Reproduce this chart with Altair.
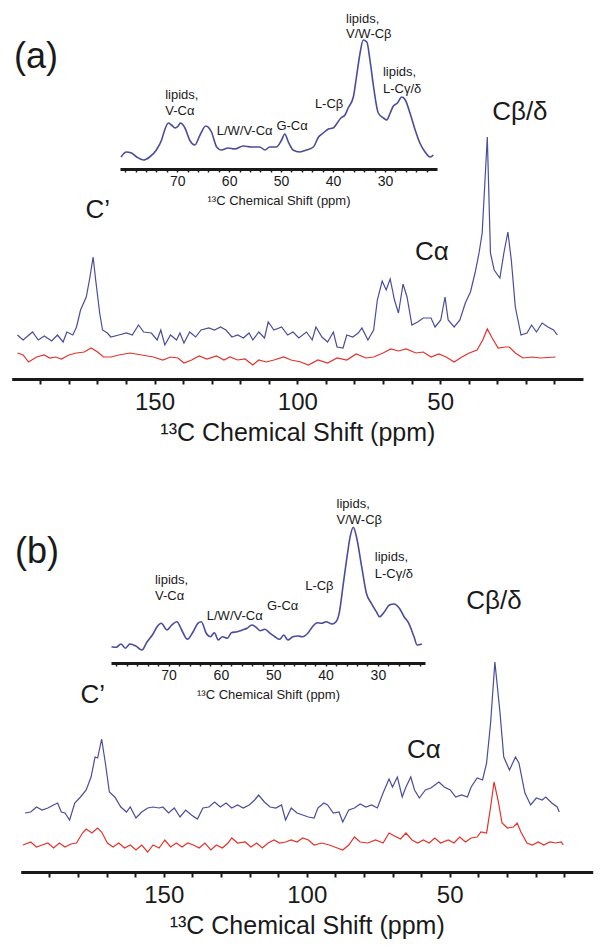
import altair as alt
import pandas as pd

FONT = "Liberation Sans"
BLUE = "#4A4C9C"
RED = "#E4322B"
INK = "#1a1a1a"

# ---------------- data (ppm, intensity) ----------------
A_BLUE = [(198.0,44),(196.0,39),(192.7,47),(190.7,39),(188.6,43),(186.0,38),(184.0,44),(182.0,37),(180.7,47),(178.6,44),
          (177.3,52),(175.9,69),(173.9,82),(172.6,102),(171.5,122),(170.6,99),(169.2,66),(168.2,49),(166.5,46),(165.3,42),
          (162.5,44),(159.8,46),(157.8,44),(155.6,54),(153.8,47),(151.1,46),(149.1,39),(147.8,49),(146.4,34),(144.4,44),
          (142.3,39),(141.1,46),(139.7,36),(137.7,47),(135.6,42),(133.7,49),(131.0,51),(129.0,49),(126.9,52),(125.0,49),
          (122.9,42),(120.9,44),(118.9,41),(116.9,46),(115.6,39),(113.5,47),(111.5,41),(110.2,57),(108.2,49),(105.5,52),
          (103.4,44),(101.5,47),(99.5,41),(96.8,47),(94.8,39),(93.5,52),(91.4,42),(89.4,37),(87.4,47),(86.1,32),
          (84.0,31),(82.7,44),(80.6,42),(78.7,46),(77.4,51),(75.3,39),(73.3,49),(72.0,79),(70.3,98),(68.9,89),
          (67.5,100),(66.0,79),(64.6,66),(63.0,95),(61.6,82),(59.9,54),(57.9,57),(55.9,61),(53.2,61),(51.8,52),
          (49.8,59),(48.3,82),(47.2,59),(45.1,52),(43.1,59),(41.2,76),(39.4,87),(37.8,106),(36.4,126),(35.3,146),
          (33.5,242),(32.4,126),(31.1,109),(29.1,101),(27.7,126),(26.3,147),(25.1,119),(23.7,72),(21.7,44),(19.6,46),
          (18.0,54),(16.3,47),(14.3,56),(12.3,52),(10.3,49),(9.0,44)]
A_RED = [(198.0,26),(196.0,24),(194.1,17),(191.3,22),(188.6,24),(186.7,21),(184.6,22),(182.6,20),(180.0,24),(177.3,26),
         (174.6,27),(172.2,31),(169.9,27),(167.9,22),(165.3,22),(162.5,24),(158.5,26),(154.5,24),(150.4,22),(147.1,19),
         (144.4,22),(141.8,21),(139.7,16),(137.0,19),(134.4,23),(131.7,20),(128.3,23),(125.7,19),(123.6,22),(120.9,19),
         (118.3,20),(115.6,14),(113.5,19),(110.9,17),(108.2,19),(104.8,22),(102.2,19),(98.8,17),(96.1,14),(92.8,19),
         (89.4,16),(86.1,21),(82.7,19),(79.4,25),(76.0,21),(73.3,22),(70.0,26),(67.3,30),(64.6,28),(61.9,30),
         (58.5,26),(55.9,27),(53.2,22),(50.5,25),(47.9,22),(45.1,17),(42.4,22),(39.8,26),(37.1,29),(35.1,39),
         (33.5,50),(31.8,41),(29.7,31),(27.0,32),(25.8,32),(23.7,26),(21.0,21),(17.6,22),(15.0,21),(9.6,22)]
A_INSET = [(80.8,12),(79.8,17),(78.8,16),(77.8,12),(76.5,9),(75.3,12),(74.0,19),(73.0,29),(72.4,39),(71.7,46),
           (71.1,44),(70.4,41),(69.8,43),(69.4,46),(68.5,41),(67.6,29),(66.6,24),(65.6,34),(64.5,43),(63.4,37),
           (62.4,22),(61.5,19),(60.2,21),(58.9,20),(57.3,23),(55.7,22),(54.1,22),(53.1,19),(52.2,22),(50.9,22),
           (49.9,29),(49.3,35),(48.6,27),(47.7,19),(46.4,17),(45.1,19),(43.8,22),(42.8,32),(41.9,36),(40.9,40),
           (40.0,41),(39.2,46),(38.5,51),(37.7,54),(37.1,61),(36.1,72),(35.5,92),(34.8,116),(34.2,129),(33.5,127),
           (32.9,109),(32.2,82),(31.3,56),(30.3,51),(29.7,49),(29.0,56),(28.4,63),(27.6,66),(26.8,72),(26.1,69),
           (25.2,56),(24.2,39),(23.3,26),(22.3,17),(21.3,12),(20.7,14)]

B_BLUE = [(198.5,59),(196.5,60),(194.5,65),(192.5,62),(190.5,64),(188.5,67),(187.1,69),(185.8,60),(184.5,59),(182.9,52),
          (181.1,69),(179.1,75),(177.1,82),(175.4,95),(174.0,115),(173.1,114),(171.7,133),(170.4,109),(169.0,80),(167.1,75),
          (165.0,65),(163.0,60),(161.7,65),(159.7,54),(157.7,60),(155.6,64),(153.7,65),(151.6,64),(150.3,65),(148.3,59),
          (146.3,64),(144.3,55),(142.3,62),(140.3,57),(138.2,53),(136.3,64),(134.2,65),(132.2,70),(130.2,65),(128.2,69),
          (126.2,64),(124.2,67),(122.2,64),(120.1,67),(118.2,72),(116.8,77),(114.8,70),(112.8,65),(110.8,64),(108.8,67),
          (107.4,52),(105.4,64),(103.4,59),(101.4,57),(99.4,55),(97.4,54),(96.1,64),(94.0,69),(92.7,67),(90.7,59),
          (88.7,60),(87.4,50),(85.3,62),(83.3,64),(81.3,68),(79.3,65),(77.3,67),(75.3,64),(73.3,79),(71.2,93),
          (70.0,85),(68.3,95),(66.6,75),(65.3,85),(63.6,95),(62.3,82),(60.6,74),(58.5,82),(56.6,84),(53.8,90),
          (51.9,85),(49.8,82),(47.9,75),(45.8,77),(43.8,75),(42.5,85),(40.4,94),(38.5,92),(37.1,109),(35.7,149),
          (34.2,210),(32.4,159),(31.1,115),(29.1,102),(27.0,115),(25.8,109),(23.7,79),(21.7,67),(19.7,74),(17.7,72),
          (16.4,75),(14.3,69),(12.4,65),(11.7,60)]
B_RED = [(199.2,27),(196.5,30),(194.5,25),(192.5,27),(190.5,29),(188.5,24),(186.5,29),(184.5,25),(182.4,28),(180.5,29),
         (178.4,39),(177.1,43),(175.1,39),(173.1,44),(171.7,40),(169.7,29),(167.7,25),(165.7,29),(163.7,24),(161.7,27),
         (159.7,22),(157.7,27),(155.6,20),(153.7,27),(151.6,24),(149.6,32),(147.6,25),(145.6,29),(143.6,25),(141.6,29),
         (139.6,27),(137.6,24),(135.6,29),(133.5,22),(131.6,27),(129.5,24),(127.5,29),(126.2,34),(124.2,29),(121.5,30),
         (119.5,25),(117.5,29),(115.5,24),(113.5,29),(111.4,32),(109.5,29),(107.4,30),(105.4,32),(103.4,30),(101.4,34),
         (99.4,32),(97.4,27),(94.7,29),(92.1,27),(89.3,24),(87.4,22),(85.3,27),(83.3,35),(81.3,30),(78.7,29),
         (75.9,32),(73.3,29),(71.2,39),(69.3,36),(67.2,33),(65.3,39),(63.2,32),(61.2,29),(59.2,32),(57.2,29),
         (55.2,34),(53.2,29),(50.5,32),(48.5,29),(46.5,35),(44.5,30),(42.5,34),(40.4,35),(39.1,40),(37.1,39),
         (35.7,65),(34.5,90),(33.1,72),(31.7,49),(29.8,44),(27.7,45),(26.4,49),(25.1,40),(23.0,29),(21.1,27),
         (19.0,30),(17.1,27),(15.0,30),(13.0,29),(11.0,30),(10.3,27)]
B_INSET = [(80.9,16.3),(80.0,15.7),(79.1,19),(78.25,14.7),(77.4,19),(76.25,17),(75.1,13),(74.1,21.3),(73.1,28),(72.2,36.3),
           (71.4,39.7),(70.3,33),(69.4,38),(68.4,41.3),(67.5,33),(66.4,23.7),(65.3,31.3),(64.4,39.7),(63.75,41.3),(62.8,29.7),
           (62.0,26.3),(61.25,30.3),(60.5,23),(59.7,26.3),(58.75,24.7),(58.0,30.3),(56.9,31.3),(55.9,33),(55.0,34.7),(54.1,38),
           (53.4,36.3),(52.5,32.3),(51.6,33.7),(50.6,29.7),(49.7,26.3),(48.75,23.7),(48.0,28),(47.2,23),(46.25,26.3),(45.3,27),
           (44.4,26.3),(43.4,29.7),(42.5,36.3),(41.6,40.3),(40.75,39.7),(39.9,41.3),(38.75,39),(38.0,41.3),(37.4,49.7),(36.6,79.7),
           (35.9,106.3),(35.3,126.3),(34.7,135.7),(34.1,126.3),(33.1,96.3),(32.2,69.7),(31.25,59.7),(30.3,51.3),(29.7,46.3),(28.75,51.3),
           (27.8,58),(26.9,59),(25.9,54.7),(25.0,46.3),(24.1,39.7),(23.1,26.3),(22.5,18),(21.6,19)]

# annotations (text, ppm, intensity)
A_MAIN_NOTES = [("C\u2019", 169.9, 169), ("C\u03b1", 52.9, 127), ("C\u03b2/\u03b4", 22.1, 267)]
B_MAIN_NOTES = [("C\u2019", 174.8, 177), ("C\u03b1", 59.0, 122), ("C\u03b2/\u03b4", 34.5, 271)]
A_TAG = [("(a)", 191.5, 322)]
B_TAG = [("(b)", 194.3, 320)]
INSET_LABELS = ["lipids,", "V/W-C\u03b2", "lipids,", "L-C\u03b3/\u03b4", "L-C\u03b2", "G-C\u03b1",
                "L/W/V-C\u03b1", "lipids,", "V-C\u03b1"]
A_INSET_PPM = [37.5, 37.5, 30.4, 30.4, 43.5, 50.9, 62.4, 72.3, 72.3]
A_INSET_INT = [150, 135, 97, 80, 65.5, 43, 38, 74, 58]
B_INSET_PPM = [37.9, 37.9, 30.6, 30.6, 43.9, 51.2, 62.7, 72.6, 72.6]
B_INSET_INT = [159.5, 143.5, 106, 89.5, 77, 57, 47, 83, 67]

MAIN_TICKS = list(range(190, 0, -10))
INSET_TICKS = list(range(80, 21, -2))
X_TITLE = "\u00b9\u00b3C Chemical Shift (ppm)"

W, H = 588, 936


def spec_df(pairs):
    return pd.DataFrame(pairs, columns=["ppm", "h"])


def note_df(rows):
    return pd.DataFrame(rows, columns=["label", "ppm", "h"])


def main_panel(blue, red, notes, tag, x_range, axis_y, y_top):
    xs = alt.Scale(domain=[200, 0], range=x_range, nice=False, zero=False)
    ys = alt.Scale(domain=[0, axis_y - y_top], range=[axis_y, y_top], nice=False, zero=False)
    ax = alt.Axis(values=MAIN_TICKS, labelExpr="datum.value % 50 === 0 ? datum.label : ''",
                  orient="bottom", offset=axis_y - H, title=X_TITLE, labelFontSize=24,
                  titleFontSize=25, tickSize=5, tickWidth=2, domainWidth=3, labelPadding=6,
                  titlePadding=6, labelOverlap=False, titleFontWeight="normal")
    x = alt.X("ppm:Q", scale=xs, axis=ax)
    y = alt.Y("h:Q", scale=ys, axis=None)
    l1 = alt.Chart(spec_df(blue)).mark_line(color=BLUE, strokeWidth=1.2).encode(x=x, y=y)
    l2 = alt.Chart(spec_df(red)).mark_line(color=RED, strokeWidth=1.2).encode(x=x, y=y)
    t1 = alt.Chart(note_df(notes)).mark_text(font=FONT, fontSize=26, color=INK, align="center",
                                              baseline="middle").encode(x=x, y=y, text="label:N")
    t2 = alt.Chart(note_df(tag)).mark_text(font=FONT, fontSize=36, color=INK, align="center",
                                            baseline="middle").encode(x=x, y=y, text="label:N")
    return alt.layer(l1, l2, t1, t2)


def inset_panel(trace, ppms, ints, x_dom, x_range, axis_y, y_top):
    xs = alt.Scale(domain=x_dom, range=x_range, nice=False, zero=False)
    ys = alt.Scale(domain=[0, axis_y - y_top], range=[axis_y, y_top], nice=False, zero=False)
    ax = alt.Axis(values=INSET_TICKS,
                  labelExpr="(datum.value % 10 === 0 && datum.value <= 70) ? datum.label : ''",
                  orient="bottom", offset=axis_y - H, title=X_TITLE, labelFontSize=14,
                  titleFontSize=13, tickSize=3, tickWidth=1.5, domainWidth=3, labelPadding=2,
                  titlePadding=6, labelOverlap=False, titleFontWeight="normal")
    x = alt.X("ppm:Q", scale=xs, axis=ax)
    y = alt.Y("h:Q", scale=ys, axis=None)
    line = alt.Chart(spec_df(trace)).mark_line(color=BLUE, strokeWidth=1.6,
                                               interpolate="monotone").encode(x=x, y=y)
    lab = pd.DataFrame({"label": INSET_LABELS, "ppm": ppms, "h": ints})
    txt = alt.Chart(lab).mark_text(font=FONT, fontSize=13, color=INK, align="left",
                                   baseline="middle").encode(x=x, y=y, text="label:N")
    return alt.layer(line, txt)


main_a = main_panel(A_BLUE, A_RED, A_MAIN_NOTES, A_TAG, [3.7, 575], 371, 0)
inset_a = inset_panel(A_INSET, A_INSET_PPM, A_INSET_INT, [81, 20], [112, 429], 161, 0)
main_b = main_panel(B_BLUE, B_RED, B_MAIN_NOTES, B_TAG, [12.7, 584.7], 864, 444)
inset_b = inset_panel(B_INSET, B_INSET_PPM, B_INSET_INT, [81, 21], [103, 417], 655, 485)

chart = (
    alt.layer(main_a, inset_a, main_b, inset_b)
    .resolve_scale(x="independent", y="independent")
    .resolve_axis(x="independent", y="independent")
    .properties(width=W, height=H, padding=0, autosize=alt.AutoSizeParams(type="none"))
    .configure_view(stroke=None)
    .configure_axis(labelFont=FONT, titleFont=FONT, domainColor=INK, tickColor=INK,
                    labelColor=INK, titleColor=INK, grid=False)
)

chart.save("out.html", embed_options={"renderer": "svg", "actions": False})
